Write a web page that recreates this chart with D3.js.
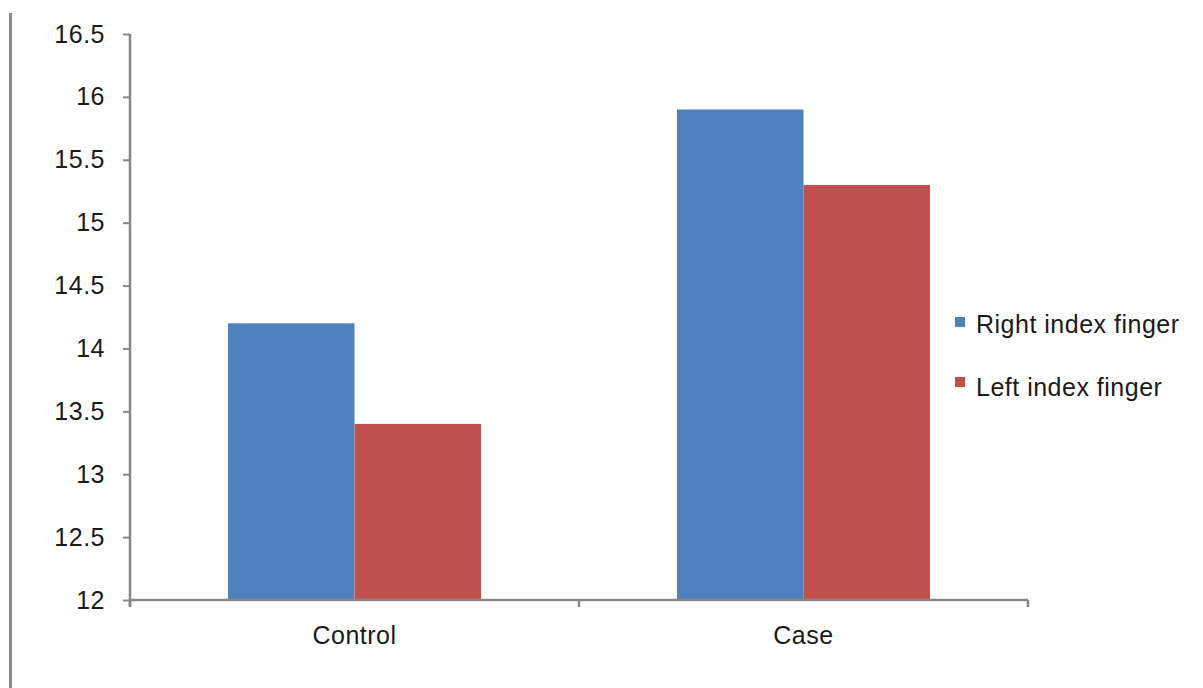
<!DOCTYPE html>
<html>
<head>
<meta charset="utf-8">
<script src="https://cdn.jsdelivr.net/npm/d3@7"></script>
<style>
  html, body { margin: 0; padding: 0; background: #fff; }
  svg { display: block; }
  text { font-family: "Liberation Sans", Arial, sans-serif; fill: #1a1a1a; letter-spacing: 0.5px; }
</style>
</head>
<body>
<svg id="chart" width="1203" height="688"></svg>
<script>
const categories = ["Control", "Case"];
const seriesNames = ["Right index finger", "Left index finger"];
const rightValues = [14.2, 15.9];
const leftValues = [13.4, 15.3];
const yTicks = [12, 12.5, 13, 13.5, 14, 14.5, 15, 15.5, 16, 16.5];
const colors = ["#4F81BD", "#C0504D"];

const svg = d3.select("#chart");
const axisColor = "#868686";
const fontSize = "25px";

// outer left frame line
svg.append("line")
  .attr("x1", 10.5).attr("x2", 10.5)
  .attr("y1", 13).attr("y2", 688)
  .attr("stroke", "#8a8a8a").attr("stroke-width", 3);

const x0 = d3.scaleBand().domain(categories).range([130, 1028])
  .paddingInner(0.4365).paddingOuter(0.2183);
const x1 = d3.scaleBand().domain(seriesNames).range([0, x0.bandwidth()]);
const y = d3.scaleLinear().domain([12, 16.5]).range([600, 34]);

const data = categories.map((c, i) => ({
  cat: c,
  vals: [
    { name: seriesNames[0], v: rightValues[i] },
    { name: seriesNames[1], v: leftValues[i] }
  ]
}));

// bars
const g = svg.append("g");
g.selectAll("g.grp").data(data).join("g")
  .attr("class", "grp")
  .attr("transform", d => `translate(${x0(d.cat)},0)`)
  .selectAll("rect").data(d => d.vals).join("rect")
  .attr("x", d => x1(d.name))
  .attr("width", x1.bandwidth())
  .attr("y", d => y(d.v))
  .attr("height", d => y(12) - y(d.v))
  .attr("fill", (d, i) => colors[i]);

// y axis
const yAxis = d3.axisLeft(y).tickValues(yTicks).tickSize(7).tickPadding(18)
  .tickFormat(d => d3.format("")(d));
const ya = svg.append("g").attr("transform", "translate(130,0)").call(yAxis);
ya.select(".domain").attr("stroke", axisColor).attr("stroke-width", 2.5)
  .attr("d", "M0,34V607");
ya.selectAll(".tick line").attr("stroke", axisColor).attr("stroke-width", 2);
ya.selectAll(".tick text").style("font-size", fontSize).attr("fill", "#1a1a1a")
  .attr("font-family", null);

// x axis
const xTickPos = [130, 130 + x0.step(), 130 + 2 * x0.step()];
const xa = svg.append("g").attr("transform", "translate(0,600)");
xa.append("path").attr("d", "M130,0H1028").attr("stroke", axisColor)
  .attr("stroke-width", 2.5).attr("fill", "none");
xa.selectAll("line.tk").data(xTickPos).join("line")
  .attr("class", "tk")
  .attr("x1", d => d).attr("x2", d => d)
  .attr("y1", 0).attr("y2", 7)
  .attr("stroke", axisColor).attr("stroke-width", 2.5);
xa.selectAll("text.cat").data(categories).join("text")
  .attr("class", "cat")
  .attr("x", d => x0(d) + x0.bandwidth() / 2)
  .attr("y", 44)
  .attr("text-anchor", "middle")
  .style("font-size", fontSize)
  .text(d => d);

// legend
const legend = svg.append("g");
seriesNames.forEach((name, i) => {
  const ly = 322 + i * 60;
  legend.append("rect").attr("x", 955).attr("y", ly - 5)
    .attr("width", 10).attr("height", 10).attr("fill", colors[i]);
  legend.append("text").attr("x", 976).attr("y", ly + 11 + i * 3)
    .style("font-size", fontSize).text(name);
});
</script>
</body>
</html>
